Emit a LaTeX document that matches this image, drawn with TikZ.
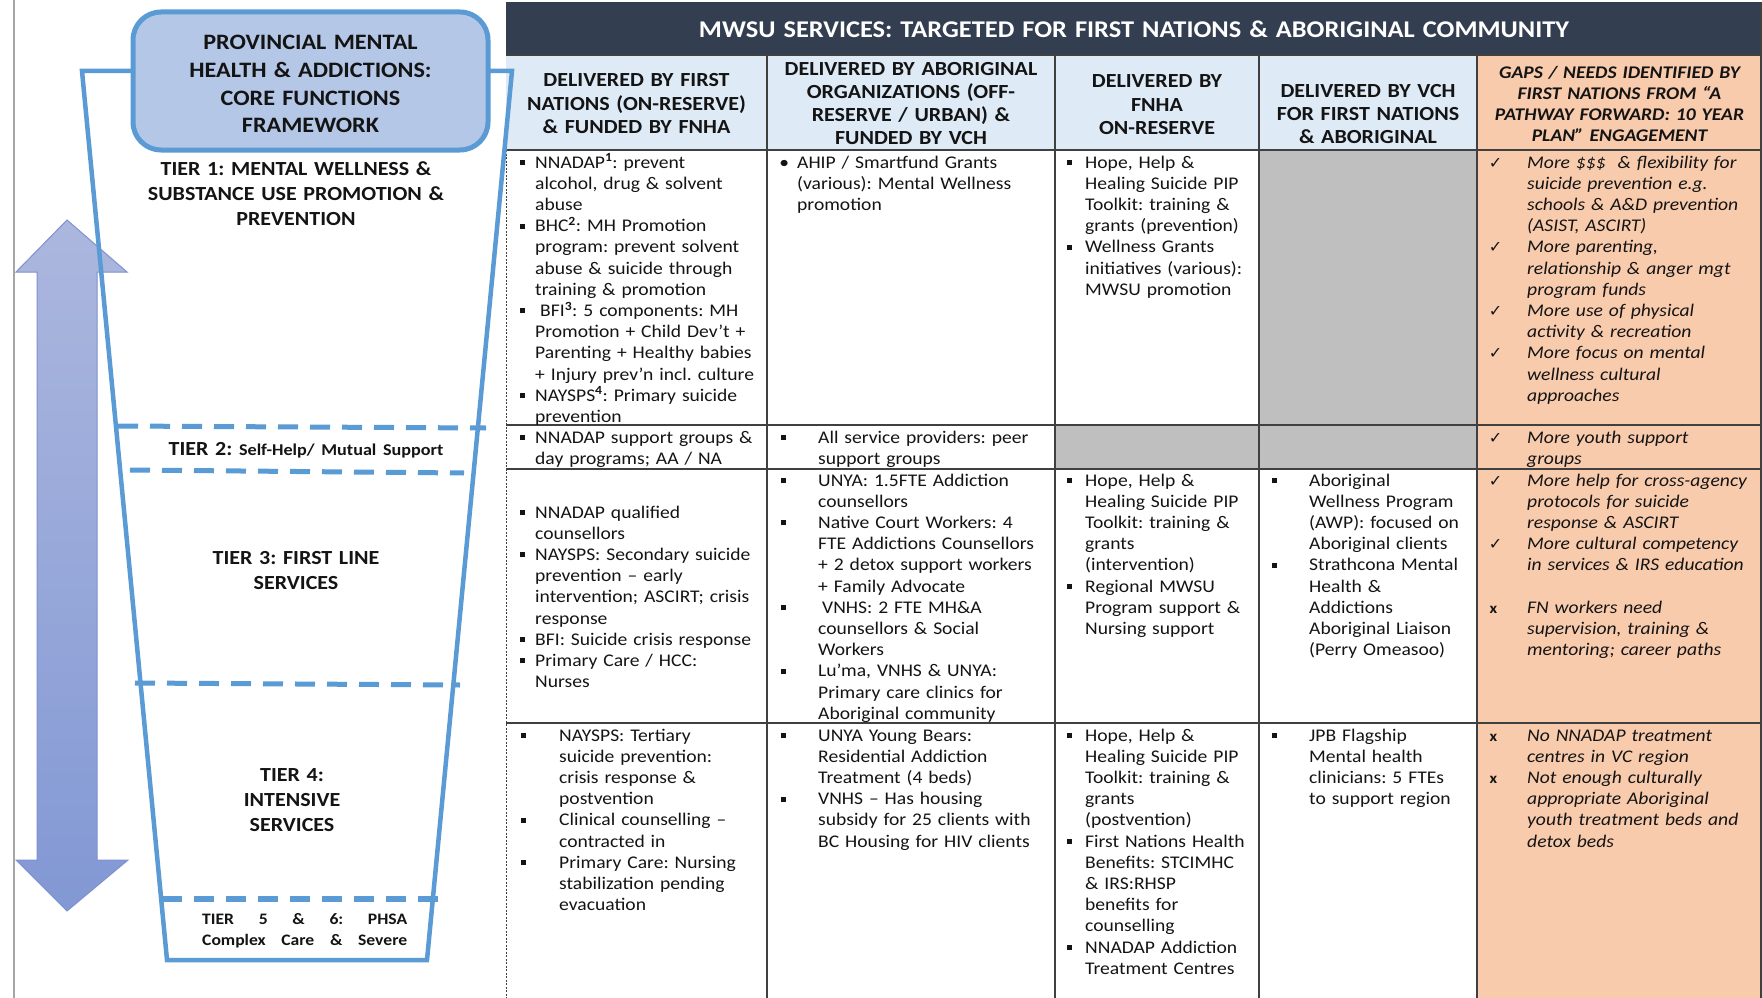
\documentclass[tikz,border=0pt]{standalone}
\usepackage{fontspec}
\setmainfont{Carlito}[FakeStretch=1.1]
\newfontfamily\symf{DejaVu Sans}
\frenchspacing
\definecolor{funblue}{HTML}{5B9BD5}
\definecolor{boxfill}{HTML}{B4C7E7}
\definecolor{titlec}{HTML}{333F50}
\definecolor{headc}{HTML}{DEEAF6}
\definecolor{orangec}{HTML}{F8CBAD}
\definecolor{grayc}{HTML}{BFBFBF}
\definecolor{linec}{HTML}{404040}
\definecolor{txt}{HTML}{141414}
\definecolor{arrtop}{HTML}{ACB7DE}
\definecolor{arrbot}{HTML}{8298D4}
\definecolor{arredge}{HTML}{7F91D0}
\newcommand{\sqb}{\raisebox{3pt}{\rule{5pt}{5pt}}}
\newcommand{\Bq}[1]{\leavevmode\llap{\sqb\hspace{#1}}}
\newcommand{\Ck}{\leavevmode\llap{{\symf\upshape\fontsize{16}{16}\selectfont ✓}\hspace{25pt}}}
\newcommand{\Xk}{\leavevmode\llap{{\bfseries\upshape\fontsize{15}{15}\selectfont x}\hspace{30pt}}}
\tikzset{
  cell/.style={anchor=base west, inner sep=0pt, text width=300pt, align=left, text=txt, font=\fontsize{17.8}{21.2}\selectfont},
  gapcell/.style={cell, font=\fontsize{17.8}{21.2}\selectfont\itshape},
  hdr/.style={anchor=base, inner sep=0pt, text width=300pt, align=center, text=txt, font=\fontsize{20}{23.3}\selectfont\bfseries},
  hdrgap/.style={hdr, font=\fontsize{17.8}{21.2}\selectfont\bfseries\itshape},
  tier/.style={anchor=base, inner sep=0pt, text width=360pt, align=center, text=txt, font=\fontsize{20}{25}\selectfont\bfseries},
  tline/.style={draw=linec, line width=1.6pt},
  dashl/.style={draw=funblue, line width=5pt, dash pattern=on 20pt off 12pt},
  funnel/.style={draw=funblue, line width=4.5pt, line join=miter},
}
\begin{document}
\begin{tikzpicture}[x=1pt,y=-1pt]
\useasboundingbox (0,0) rectangle (1762,998);
\fill[white] (0,0) rectangle (1762,998);
% left frame line
\draw[draw=black!35, line width=2pt] (14,0) -- (14,998);
% ---------- table fills ----------
\fill[titlec] (506,2) rectangle (1762,55);
\fill[headc] (506,55) rectangle (1477,150);
\fill[orangec] (1477,55) rectangle (1762,998);
\fill[grayc] (1259,150) rectangle (1477,425);
\fill[grayc] (1055,425) rectangle (1477,469);
% ---------- table lines ----------
\draw[tline] (506,55) -- (1762,55);
\draw[tline] (506,150) -- (1762,150);
\draw[tline] (506,425) -- (1762,425);
\draw[tline] (506,469) -- (1762,469);
\draw[tline] (506,723) -- (1762,723);
\foreach \xx in {767,1055,1259,1477} {\draw[tline] (\xx,55) -- (\xx,998);}
\draw[tline] (1761,2) -- (1761,998);
\draw[draw=linec, line width=1pt, dash pattern=on 2pt off 1.5pt] (506,150) -- (506,998);
% ---------- double arrow ----------
\shade[top color=arrtop, bottom color=arrbot, draw=arredge, line width=1pt]
  (67,220) -- (127,272) -- (97,272) -- (97,860) -- (128,860) -- (67,911)
  -- (16,860) -- (37,860) -- (37,272) -- (16,272) -- cycle;
% ---------- funnel ----------
\draw[funnel] (140,71) -- (82,71) -- (167,960) -- (427,960) -- (512,71) -- (480,71);
\draw[draw=funblue, fill=boxfill, line width=5pt, rounded corners=28pt] (133,12) rectangle (488,150);
\draw[dashl] (118,426) -- (486,428);
\draw[dashl] (130,470) -- (464,473);
\draw[dashl] (135,683) -- (460,685);
\draw[dashl, line width=6pt] (162,899) -- (448,899);
% ---------- left texts ----------
\node[tier, font=\fontsize{22}{27.5}\selectfont\bfseries] (core) at (310.5,50) {PROVINCIAL MENTAL\\HEALTH \& ADDICTIONS:\\CORE FUNCTIONS\\FRAMEWORK};
\node[tier] (t1) at (296,175) {TIER 1: MENTAL WELLNESS \&\\SUBSTANCE USE PROMOTION \&\\PREVENTION};
\node[tier] (t2) at (306,455) {TIER 2: {\fontsize{16.5}{16.5}\selectfont Self-Help/ Mutual Support}};
\node[tier] (t3) at (296,564) {TIER 3: FIRST LINE\\SERVICES};
\node[tier] (t4) at (292,781) {TIER 4:\\INTENSIVE\\SERVICES};
\node[tier, anchor=base west, text width=205pt, align=left, font=\fontsize{16}{21}\selectfont\bfseries] (t5) at (202,924)
  {\leavevmode\hbox to 205pt{TIER\hfill 5\hfill \&\hfill 6:\hfill PHSA}\\\leavevmode\hbox to 205pt{Complex\hfill Care\hfill \&\hfill Severe}};
% ---------- title and headers ----------
\node[hdr, text=white, text width=1200pt, font=\fontsize{24}{28}\selectfont\bfseries] (title) at (1134,38) {MWSU SERVICES: TARGETED FOR FIRST NATIONS \& ABORIGINAL COMMUNITY};
\node[hdr] (h1) at (636.5,87) {DELIVERED BY FIRST\\NATIONS (ON-RESERVE)\\\& FUNDED BY FNHA};
\node[hdr] (h2) at (911,75) {DELIVERED BY ABORIGINAL\\ORGANIZATIONS (OFF-\\RESERVE / URBAN) \&\\FUNDED BY VCH};
\node[hdr] (h3) at (1157,88) {DELIVERED BY\\FNHA\\ON-RESERVE};
\node[hdr] (h4) at (1368,97) {DELIVERED BY VCH\\FOR FIRST NATIONS\\\& ABORIGINAL};
\node[hdrgap] (h5) at (1619.5,78) {GAPS / NEEDS IDENTIFIED BY\\FIRST NATIONS FROM “A\\PATHWAY FORWARD: 10 YEAR\\PLAN” ENGAGEMENT};
% ---------- row 1 ----------
\node[cell] (r1c1) at (535,168) {\Bq{10pt}NNADAP\textsuperscript{\bfseries 1}: prevent\\
alcohol, drug \& solvent\\
abuse\\
\Bq{10pt}BHC\textsuperscript{\bfseries 2}: MH Promotion\\
program: prevent solvent\\
abuse \& suicide through\\
training \& promotion\\
\Bq{10pt}\hspace{5pt}BFI\textsuperscript{\bfseries 3}: 5 components: MH\\
Promotion + Child Dev’t +\\
Parenting + Healthy babies\\
+ Injury prev’n incl. culture\\
\Bq{10pt}NAYSPS\textsuperscript{\bfseries 4}: Primary suicide\\
prevention};
\node[cell] (r1c2) at (797,168) {\leavevmode\llap{•\hspace{8pt}}AHIP / Smartfund Grants\\(various): Mental Wellness\\promotion};
\node[cell] (r1c3) at (1085,168) {\Bq{13pt}Hope, Help \&\\Healing Suicide PIP\\Toolkit: training \&\\grants (prevention)\\\Bq{13pt}Wellness Grants\\initiatives (various):\\MWSU promotion};
\node[gapcell] (r1c5) at (1527,168) {\Ck More \$\$\$~ \& flexibility for\\suicide prevention e.g.\\schools \& A\&D prevention\\(ASIST, ASCIRT)\\\Ck More parenting,\\relationship \& anger mgt\\program funds\\\Ck More use of physical\\activity \& recreation\\\Ck More focus on mental\\wellness cultural\\approaches};
% ---------- row 2 ----------
\node[cell] (r2c1) at (535,443) {\Bq{10pt}NNADAP support groups \&\\day programs; AA / NA};
\node[cell] (r2c2) at (818,443) {\Bq{32pt}All service providers: peer\\support groups};
\node[gapcell] (r2c5) at (1527,443) {\Ck More youth support\\groups};
% ---------- row 3 ----------
\node[cell] (r3c1) at (535,518) {\Bq{10pt}NNADAP qualified\\counsellors\\\Bq{10pt}NAYSPS: Secondary suicide\\prevention – early\\intervention; ASCIRT; crisis\\response\\\Bq{10pt}BFI: Suicide crisis response\\\Bq{10pt}Primary Care / HCC:\\Nurses};
\node[cell] (r3c2) at (818,486) {\Bq{32pt}UNYA: 1.5FTE Addiction\\counsellors\\\Bq{32pt}Native Court Workers: 4\\FTE Addictions Counsellors\\+ 2 detox support workers\\+ Family Advocate\\\Bq{32pt}\hspace{4pt}VNHS: 2 FTE MH\&A\\counsellors \& Social\\Workers\\\Bq{32pt}Lu’ma, VNHS \& UNYA:\\Primary care clinics for\\Aboriginal community};
\node[cell] (r3c3) at (1085,486) {\Bq{13pt}Hope, Help \&\\Healing Suicide PIP\\Toolkit: training \&\\grants\\(intervention)\\\Bq{13pt}Regional MWSU\\Program support \&\\Nursing support};
\node[cell] (r3c4) at (1309,486) {\Bq{32pt}Aboriginal\\Wellness Program\\(AWP): focused on\\Aboriginal clients\\\Bq{32pt}Strathcona Mental\\Health \&\\Addictions\\Aboriginal Liaison\\(Perry Omeasoo)};
\node[gapcell] (r3c5) at (1527,486) {\Ck More help for cross-agency\\protocols for suicide\\response \& ASCIRT\\\Ck More cultural competency\\in services \& IRS education\\[21.2pt]\Xk FN workers need\\supervision, training \&\\mentoring; career paths};
% ---------- row 4 ----------
\node[cell] (r4c1) at (559,741) {\Bq{33pt}NAYSPS: Tertiary\\suicide prevention:\\crisis response \&\\postvention\\\Bq{33pt}Clinical counselling –\\contracted in\\\Bq{33pt}Primary Care: Nursing\\stabilization pending\\evacuation};
\node[cell] (r4c2) at (818,741) {\Bq{32pt}UNYA Young Bears:\\Residential Addiction\\Treatment (4 beds)\\\Bq{32pt}VNHS – Has housing\\subsidy for 25 clients with\\BC Housing for HIV clients};
\node[cell] (r4c3) at (1085,741) {\Bq{13pt}Hope, Help \&\\Healing Suicide PIP\\Toolkit: training \&\\grants\\(postvention)\\\Bq{13pt}First Nations Health\\Benefits: STCIMHC\\\& IRS:RHSP\\benefits for\\counselling\\\Bq{13pt}NNADAP Addiction\\Treatment Centres};
\node[cell] (r4c4) at (1309,741) {\Bq{32pt}JPB Flagship\\Mental health\\clinicians: 5 FTEs\\to support region};
\node[gapcell] (r4c5) at (1527,741) {\Xk No NNADAP treatment\\centres in VC region\\\Xk Not enough culturally\\appropriate Aboriginal\\youth treatment beds and\\detox beds};
\end{tikzpicture}
\end{document}
